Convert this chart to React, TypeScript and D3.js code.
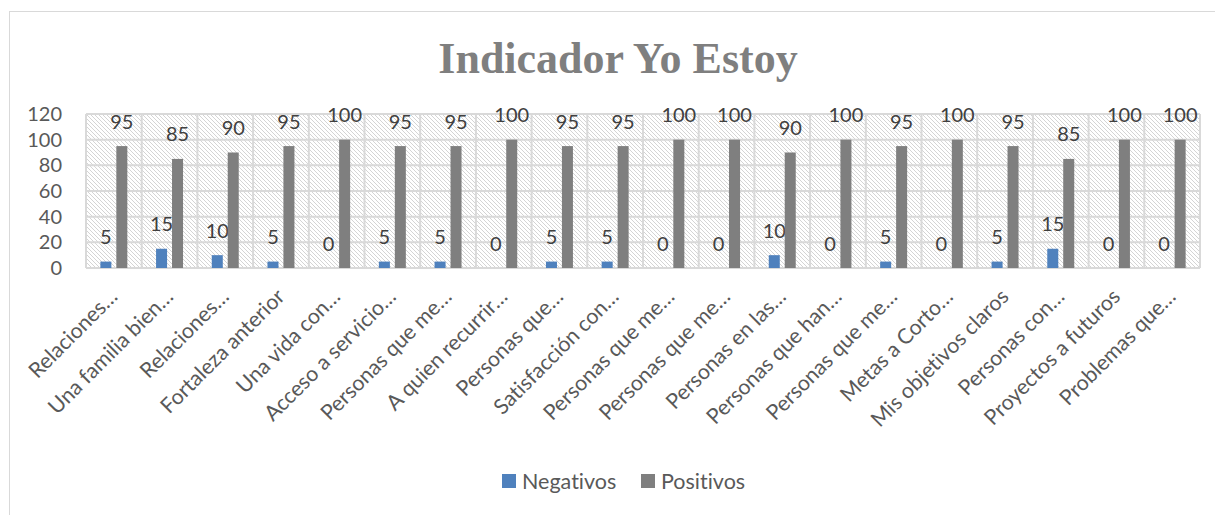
import React from 'react'
import * as d3 from 'd3'

// chart data
const categories = [
  'Relaciones…',
  'Una familia bien…',
  'Relaciones…',
  'Fortaleza anterior',
  'Una vida con…',
  'Acceso a servicio…',
  'Personas que me…',
  'A quien recurrir…',
  'Personas que…',
  'Satisfacción con…',
  'Personas que me…',
  'Personas que me…',
  'Personas en las…',
  'Personas que han…',
  'Personas que me…',
  'Metas a Corto…',
  'Mis objetivos claros',
  'Personas con…',
  'Proyectos a futuros',
  'Problemas que…',
]
const negativos = [5, 15, 10, 5, 0, 5, 5, 0, 5, 5, 0, 0, 10, 0, 5, 0, 5, 15, 0, 0]
const positivos = [95, 85, 90, 95, 100, 95, 95, 100, 95, 95, 100, 100, 90, 100, 95, 100, 95, 85, 100, 100]
const yTicks = [0, 20, 40, 60, 80, 100, 120]
const seriesNames = ['Negativos', 'Positivos']
const seriesColors = ['#4f81bd', '#7f7f7f']

const W = 1215
const H = 515
const plot = { left: 86, right: 1200, top: 114, bottom: 268 }
const textColor = '#595959'
const font = 'Lato, "Open Sans", sans-serif'

const App = () => {
  const x = d3
    .scaleBand<number>()
    .domain(d3.range(categories.length))
    .range([plot.left, plot.right])
    .paddingInner(0)
    .paddingOuter(0)

  // bars inside a category: 11px wide, 5px apart, centred
  const inner = d3
    .scaleBand<number>()
    .domain([0, 1])
    .range([0, x.bandwidth()])
    .paddingInner(0.31)
    .paddingOuter(0.9)

  const y = d3.scaleLinear().domain([0, 120]).range([plot.bottom, plot.top])

  const series = [negativos, positivos]

  return (
    <svg
      width={W}
      height={H}
      style={{ display: 'block', position: 'absolute', left: 0, top: 0, fontVariantLigatures: 'none' }}
    >
      <defs>
        <pattern id="hatch" width="4" height="4" patternUnits="userSpaceOnUse">
          <rect width="4" height="4" fill="#fff" />
          <path d="M-1,-1 L5,5 M-1,3 L1,5 M3,-1 L5,1" stroke="#d4d4d4" strokeWidth="1" />
        </pattern>
      </defs>
      <rect x={0} y={0} width={W} height={H} fill="#fff" />
      {/* chart frame, runs past the right and bottom edge */}
      <rect x={9.5} y={11.5} width={W + 20} height={H + 20} fill="#fff" stroke="#d9d9d9" strokeWidth={1} />

      <text
        x={618}
        y={73}
        textAnchor="middle"
        fontFamily='"Liberation Serif", serif'
        fontWeight="bold"
        fontSize={44}
        fill="#7f7f7f"
      >
        Indicador Yo Estoy
      </text>

      {/* plot background */}
      <rect
        x={plot.left}
        y={plot.top}
        width={plot.right - plot.left}
        height={plot.bottom - plot.top}
        fill="url(#hatch)"
      />
      {/* gridlines */}
      {yTicks.map((t) => (
        <line key={`h-${t}`} x1={plot.left} x2={plot.right} y1={y(t)} y2={y(t)} stroke="#d9d9d9" strokeWidth={2} />
      ))}
      {d3.range(categories.length + 1).map((i) => {
        const xx = i < categories.length ? x(i)! : plot.right
        return <line key={`v-${i}`} x1={xx} x2={xx} y1={plot.top} y2={plot.bottom} stroke="#d9d9d9" strokeWidth={2} />
      })}

      {/* y tick labels */}
      {yTicks.map((t) => (
        <text key={`yt-${t}`} x={62} y={y(t)} dy="0.35em" textAnchor="end" fontFamily={font} fontSize={20} fill={textColor}>
          {t}
        </text>
      ))}

      {/* bars and data labels */}
      {series.map((vals, s) =>
        vals.map((v, i) => {
          const bx = x(i)! + inner(s)!
          const top = y(v)
          return (
            <g key={`b-${s}-${i}`}>
              <rect x={bx} y={top} width={inner.bandwidth()} height={plot.bottom - top} fill={seriesColors[s]} />
              <text
                x={bx + inner.bandwidth() / 2}
                y={top - 24.5}
                dy="0.35em"
                textAnchor="middle"
                fontFamily={font}
                fontSize={20}
                fill="#404040"
              >
                {v}
              </text>
            </g>
          )
        })
      )}

      {/* category labels */}
      {categories.map((c, i) => {
        const cx = x(i)! + x.bandwidth() / 2
        return (
          <text
            key={`c-${i}`}
            transform={`translate(${cx + 5},${plot.bottom + 30}) rotate(-45)`}
            textAnchor="end"
            fontFamily={font}
            fontSize={21.3}
            fill={textColor}
          >
            {c}
          </text>
        )
      })}

      {/* legend */}
      {seriesNames.map((n, i) => {
        const lx = [502, 641][i]
        return (
          <g key={`lg-${i}`}>
            <rect x={lx} y={474} width={14} height={14} fill={seriesColors[i]} />
            <text x={lx + 20} y={481} dy="0.35em" fontFamily={font} fontSize={21.5} fill={textColor}>
              {n}
            </text>
          </g>
        )
      })}
    </svg>
  )
}

export default App
